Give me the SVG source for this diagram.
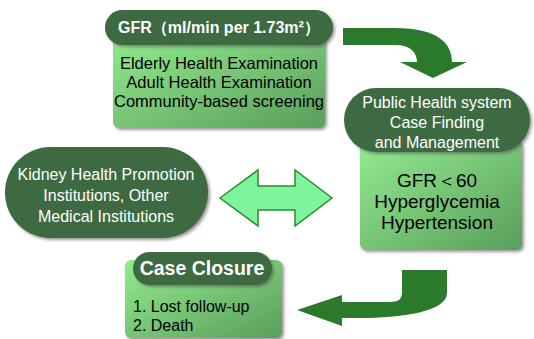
<svg xmlns="http://www.w3.org/2000/svg" width="534" height="339" viewBox="0 0 534 339">
<defs>
<linearGradient id="g" x1="0" y1="0" x2="1" y2="1">
<stop offset="0" stop-color="#93ec8f"/>
<stop offset="1" stop-color="#5a9e5c"/>
</linearGradient>
<filter id="sh" x="-10%" y="-10%" width="125%" height="130%">
<feDropShadow dx="2" dy="2" stdDeviation="1.5" flood-color="#555" flood-opacity="0.6"/>
</filter>
</defs>
<style>
.box{fill:url(#g);filter:url(#sh)}
.pill{fill:#3c6a3f;filter:url(#sh)}
.t{font-family:"Liberation Sans",Arial,sans-serif;text-anchor:middle}
.l{font-family:"Liberation Sans",Arial,sans-serif}
.w{fill:#fff}
.k{fill:#000}
.arr{fill:#2b7a2b}
</style>
<g id="connectors">
<path class="arr" d="M343,28 L395,28 C440,28 452,45 452,62 L467,62 L433,78 L400,62 L417,62 C417,52 410,45 395,45 L343,45 Z"/>
<path class="arr" d="M402,270 L447,270 L447,293 C447,312 400,318 360,318 L342,318 L342,326 L297,310 L342,295 L342,302 L390,302 C400,302 402,298 402,292 Z"/>
<path d="M220,198 L258,170 L258,186 L295,186 L295,170 L332,198 L295,226 L295,210 L258,210 L258,226 Z" fill="#7ef59c" stroke="#2e8a2e" stroke-width="1.5"/>
</g>
<g id="gfr">
<rect class="box" x="113" y="30" width="212" height="98" rx="6"/>
<rect class="pill" x="105" y="10" width="228" height="35" rx="17.5"/>
<text class="t w" x="219" y="33" font-size="16" font-weight="bold">GFR（ml/min per 1.73m²）</text>
<text class="t k" x="219" y="69" font-size="16.5">Elderly Health Examination</text>
<text class="t k" x="219" y="88" font-size="16.5">Adult Health Examination</text>
<text class="t k" x="219" y="107" font-size="16.5">Community-based screening</text>
</g>
<g id="criteria">
<rect class="box" x="360" y="140" width="162" height="110" rx="6"/>
<text class="t k" x="437" y="187" font-size="19">GFR＜60</text>
<text class="t k" x="437" y="208" font-size="19">Hyperglycemia</text>
<text class="t k" x="437" y="229" font-size="19">Hypertension</text>
</g>
<g id="public-health">
<rect class="pill" x="344" y="88" width="186" height="64" rx="32"/>
<text class="t w" x="437" y="108" font-size="16">Public Health system</text>
<text class="t w" x="437" y="128" font-size="16">Case Finding</text>
<text class="t w" x="437" y="148" font-size="16">and Management</text>
</g>
<g id="kidney">
<rect class="pill" x="5" y="147" width="203" height="91" rx="45.5"/>
<text class="t w" x="106" y="180" font-size="16">Kidney Health Promotion</text>
<text class="t w" x="106" y="201" font-size="16">Institutions, Other</text>
<text class="t w" x="106" y="222" font-size="16">Medical Institutions</text>
</g>
<g id="closure">
<rect class="box" x="125" y="260" width="157" height="78" rx="6"/>
<rect class="pill" x="133" y="252" width="139" height="33" rx="16.5"/>
<text class="t w" x="202" y="275" font-size="19.5" font-weight="bold">Case Closure</text>
<text class="l k" x="133" y="312" font-size="16">1. Lost follow-up</text>
<text class="l k" x="133" y="331" font-size="16">2. Death</text>
</g>
</svg>
